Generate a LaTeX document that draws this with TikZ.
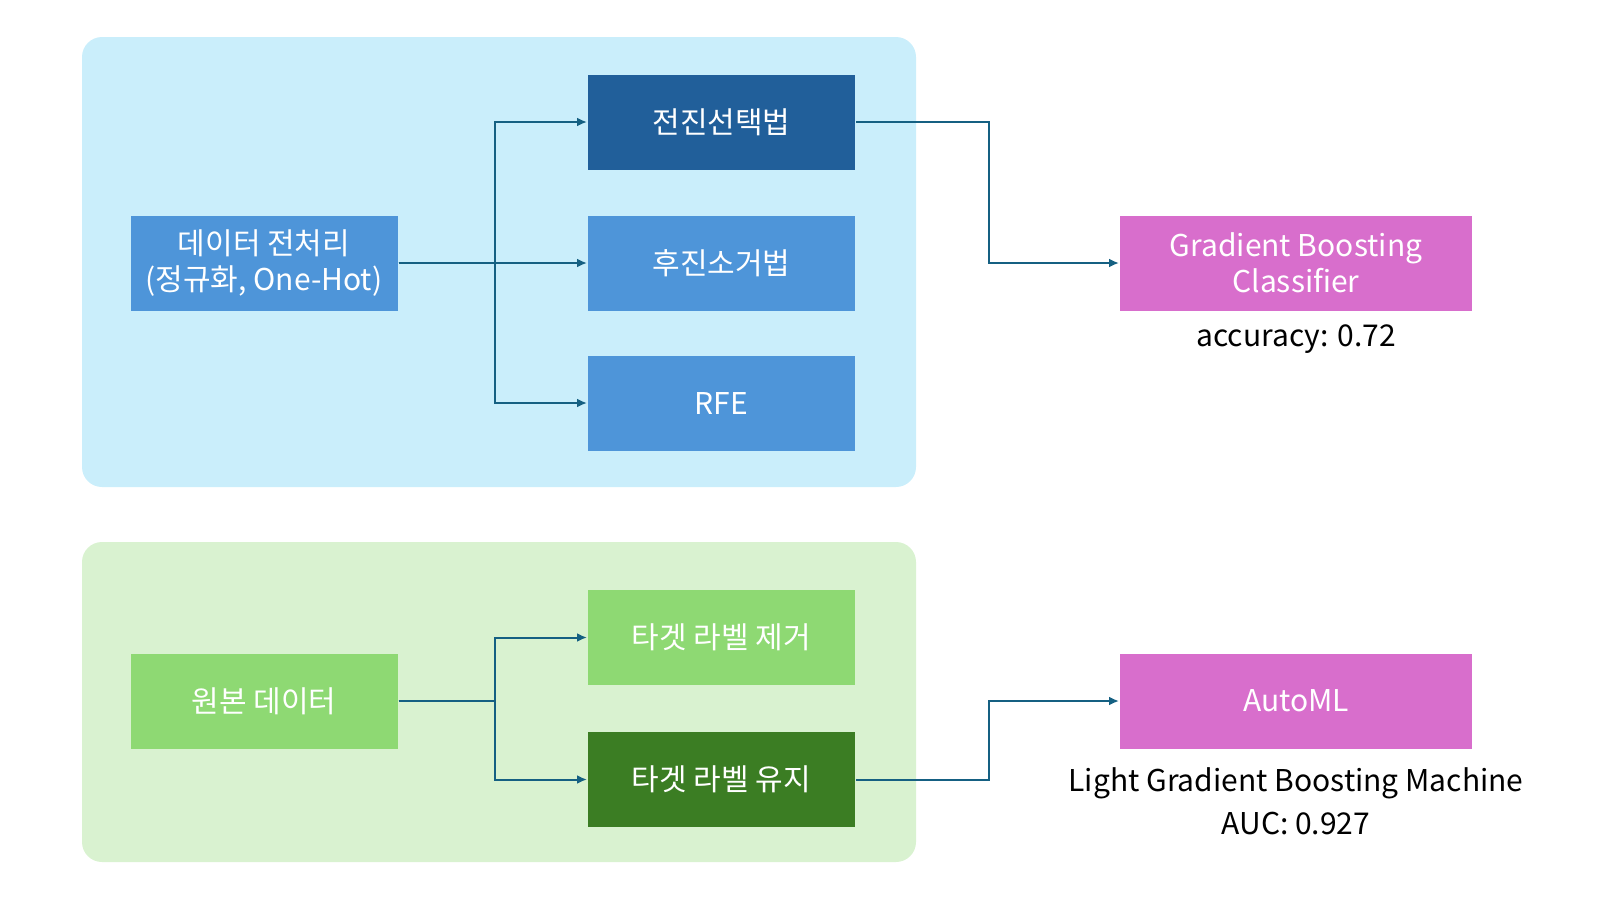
\documentclass[tikz,border=0pt]{standalone}
\usepackage{fontspec}
\setmainfont{Noto Sans CJK KR}
\usetikzlibrary{positioning}
\usetikzlibrary{arrows.meta}

\definecolor{panelblue}{HTML}{CAEEFB}
\definecolor{panelgreen}{HTML}{D9F2D0}
\definecolor{boxblue}{HTML}{4E95D9}
\definecolor{boxnavy}{HTML}{215F9A}
\definecolor{boxlime}{HTML}{8ED973}
\definecolor{boxforest}{HTML}{3B7D23}
\definecolor{boxpink}{HTML}{D86ECC}
\definecolor{linkteal}{HTML}{156082}

\begin{document}
\begin{tikzpicture}[
	x=0.5pt, y=-0.5pt,
	>={Latex[length=5pt,width=4.5pt]},
	line width=1pt,
	font=\fontsize{15}{17.8}\selectfont,
	box/.style={
		text=white, % all coloured boxes
		align=center,
		inner sep=0pt,
		minimum width=133.5pt,
		minimum height=47.5pt,
	},
	result/.style={box, fill=boxpink, minimum width=176pt},
	link/.style={->, draw=linkteal},
	note/.style={align=center, text=black},
]
	\useasboundingbox (0,0) rectangle (1600,900);

	% panels
	\fill[panelblue, rounded corners=10pt] (82,37) rectangle (916,487);
	\fill[panelgreen, rounded corners=10pt] (82,542) rectangle (916,862);

	% upper flow
	\node[box, fill=boxblue] (prep) at (264,263) {데이터 전처리\\(정규화, One-Hot)};
	\node[box, fill=boxnavy] (fwd) at (721.5,122) {전진선택법};
	\node[box, fill=boxblue] (bwd) at (721.5,263) {후진소거법};
	\node[box, fill=boxblue] (rfe) at (721.5,403) {RFE};
	\node[result] (gbc) at (1296,263) {Gradient Boosting\\Classifier};
	\node[note, below=3pt of gbc] (acc) {accuracy: 0.72};

	% lower flow
	\node[box, fill=boxlime] (raw) at (264,701) {원본 데이터};
	\node[box, fill=boxlime] (drop) at (721.5,637.5) {타겟 라벨 제거};
	\node[box, fill=boxforest] (keep) at (721.5,779.5) {타겟 라벨 유지};
	\node[result] (automl) at (1296,701) {AutoML};
	\node[note, below=5pt of automl] (lgbm) {Light Gradient Boosting Machine\\[4pt]AUC: 0.927};

	\foreach \t in {fwd,bwd,rfe}{
		\draw[link] (prep.east) -- ++(96,0) |- (\t.west);
	}
	\foreach \t in {drop,keep}{
		\draw[link] (raw.east) -- ++(96,0) |- (\t.west);
	}
	\draw[link] (fwd.east) -- ++(133,0) |- (gbc.west);
	\draw[link] (keep.east) -- ++(133,0) |- (automl.west);

\end{tikzpicture}
\end{document}
